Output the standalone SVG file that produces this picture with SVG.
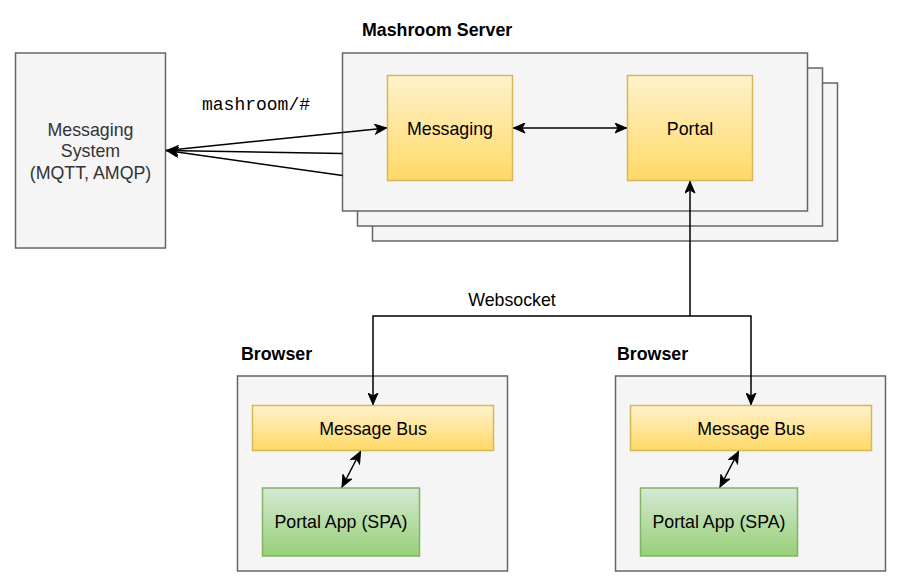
<svg xmlns="http://www.w3.org/2000/svg" width="902" height="587" viewBox="0 0 902 587">
<defs>
<linearGradient id="gy" x1="0" y1="0" x2="0" y2="1"><stop offset="0" stop-color="#fff2cc"/><stop offset="1" stop-color="#ffd966"/></linearGradient>
<linearGradient id="gg" x1="0" y1="0" x2="0" y2="1"><stop offset="0" stop-color="#d5e8d4"/><stop offset="1" stop-color="#97d077"/></linearGradient>
<marker id="ah" viewBox="0 0 13 11" refX="12" refY="5.5" markerWidth="13" markerHeight="11" markerUnits="userSpaceOnUse" orient="auto-start-reverse">
<path d="M0.5,0.5 L12,5.5 L0.5,10.5 L3.5,5.5 Z" fill="#000" stroke="#000" stroke-width="1"/>
</marker>
<style>
.gray{fill:#f5f5f5;stroke:#666666;stroke-width:1.5}
.yel{fill:url(#gy);stroke:#d6b656;stroke-width:1.5}
.grn{fill:url(#gg);stroke:#82b366;stroke-width:1.5}
.t{font-family:"Liberation Sans",Arial,sans-serif;font-size:17.8px;fill:#000;text-anchor:middle}
.tg{font-family:"Liberation Sans",Arial,sans-serif;font-size:17.8px;fill:#333333;text-anchor:middle}
.b{font-family:"Liberation Sans",Arial,sans-serif;font-size:17.8px;font-weight:bold;fill:#000}
.m{font-family:"Liberation Mono","Courier New",monospace;font-size:18px;fill:#000}
.c{fill:none;stroke:#000;stroke-width:1.5}
</style>
</defs>

<g id="messaging-system">
<rect class="gray" x="15.5" y="53" width="150" height="195"/>
<text class="tg" x="90.5" y="135.5">Messaging</text>
<text class="tg" x="90.5" y="157">System</text>
<text class="tg" x="90.5" y="179">(MQTT, AMQP)</text>
</g>

<g id="mashroom-server">
<rect class="gray" x="372.5" y="83" width="465" height="158"/>
<rect class="gray" x="357.5" y="68" width="465" height="158"/>
<rect class="gray" x="342.5" y="53" width="465" height="158"/>
<text class="b" x="362" y="36">Mashroom Server</text>
</g>

<g id="messaging">
<rect class="yel" x="387.5" y="75.5" width="125" height="105"/>
<text class="t" x="450" y="134.5">Messaging</text>
</g>

<g id="portal">
<rect class="yel" x="627.5" y="75.5" width="125" height="105"/>
<text class="t" x="690" y="134.5">Portal</text>
</g>

<g id="browser-left">
<text class="b" x="241" y="360">Browser</text>
<rect class="gray" x="237.5" y="376" width="270" height="195"/>
</g>
<g id="message-bus-left">
<rect class="yel" x="252.5" y="405.5" width="241" height="45"/>
<text class="t" x="373" y="434.5">Message Bus</text>
</g>
<g id="portal-app-left">
<rect class="grn" x="262.5" y="488" width="157" height="68"/>
<text class="t" x="341" y="528">Portal App (SPA)</text>
</g>

<g id="browser-right">
<text class="b" x="617" y="360">Browser</text>
<rect class="gray" x="615.5" y="376" width="270" height="195"/>
</g>
<g id="message-bus-right">
<rect class="yel" x="630.5" y="405.5" width="241" height="45"/>
<text class="t" x="751" y="434.5">Message Bus</text>
</g>
<g id="portal-app-right">
<rect class="grn" x="640.5" y="488" width="157" height="68"/>
<text class="t" x="719" y="528">Portal App (SPA)</text>
</g>

<g id="connectors">
<path class="c" d="M166,150.5 L386.5,128" marker-end="url(#ah)"/>
<path class="c" d="M342.5,153.5 L166.5,150.5" marker-end="url(#ah)"/>
<path class="c" d="M342.5,175.5 L166.5,150.5" marker-end="url(#ah)"/>
<text class="m" x="202" y="110">mashroom/#</text>
<path class="c" d="M513.5,128 L626.5,128" marker-start="url(#ah)" marker-end="url(#ah)"/>
<path class="c" d="M690,316 L690,181.5" marker-end="url(#ah)"/>
<path class="c" d="M690,316 L373,316 L373,404.5" marker-end="url(#ah)"/>
<path class="c" d="M690,316 L751,316 L751,404.5" marker-end="url(#ah)"/>
<text class="t" x="512" y="306">Websocket</text>
<path class="c" d="M342,487 L360.5,451.5" marker-start="url(#ah)" marker-end="url(#ah)"/>
<path class="c" d="M720,487 L738.5,451.5" marker-start="url(#ah)" marker-end="url(#ah)"/>
</g>
</svg>
